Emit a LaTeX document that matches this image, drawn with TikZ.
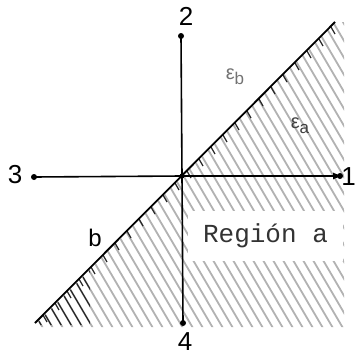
\documentclass[tikz,border=0pt]{standalone}
\usepackage{fontspec}
\setmainfont{Liberation Sans}
\newfontfamily\monofont{Liberation Mono}
\usetikzlibrary{arrows.meta}
\begin{document}
\begin{tikzpicture}[x=1pt,y=-1pt,
  dotnode/.style={circle,fill=black,inner sep=0pt,minimum size=6pt},
  numlabel/.style={font=\fontsize{26}{26}\selectfont,inner sep=0pt},
  axis/.style={line width=1.6pt,black},
  hatchline/.style={line width=1.8pt,black!30},
  tickline/.style={line width=1.2pt,black!85},
  greeklabel/.style={font=\fontsize{20}{20}\selectfont,inner sep=0pt}]
\useasboundingbox (0,0) rectangle (356,356);
% hatched region
\begin{scope}
  \clip (35,325) -- (336,22) -- (344,22) -- (344,327) -- (35,327) -- cycle;
  \foreach \k in {-220,-210,...,350} {
    \draw[hatchline] (\k,0) -- ({\k+200},340);
  }
\end{scope}
% darker hatching in the lower-left corner
\begin{scope}
  \clip (35,325) -- (90,270) -- (90,325) -- cycle;
  \foreach \k in {-220,-210,...,350} {
    \draw[tickline] (\k,0) -- ({\k+200},340);
  }
\end{scope}
% ticks along the diagonal
\foreach \s in {8,20,...,296} {
  \draw[tickline] ({35+\s},{323-\s}) -- ({39+\s},{330-\s});
}
% label box
\node[fill=white,minimum width=155pt,minimum height=50pt,inner sep=0pt,
      text=black!80,font=\monofont\fontsize{26}{26}\selectfont] (ra) at (265.5,236) {Región a};
% points
\coordinate (O) at (182,176);
\node[dotnode] (p1) at (340,176) {};
\node[dotnode] (p2) at (181,36) {};
\node[dotnode] (p3) at (34,177) {};
\node[dotnode] (p4) at (183,323) {};
\node[dotnode,minimum size=5pt] (o) at (O) {};
\coordinate (d1) at (35,323);
\coordinate (d2) at (335,22);
% axes
\draw[axis] (p3.center) -- (O);
\draw[axis,-{Latex[length=10pt,width=7pt]}] (O) -- (343,176);
\draw[axis] (p2.center) -- (O) -- (p4.center);
\draw[line width=1.8pt] (d1) -- (d2);
% labels
\node[numlabel] (l1) at (348.5,177) {1};
\node[numlabel] (l2) at (186,16) {2};
\node[numlabel] (l3) at (15,175) {3};
\node[numlabel] (l4) at (185,342) {4};
\node[greeklabel,text=black!55] (eb) at (235,77) {ε\raisebox{-5pt}{\fontsize{17}{17}\selectfont b}};
\node[greeklabel,text=black!75] (ea) at (300,126) {ε\raisebox{-5pt}{\fontsize{17}{17}\selectfont a}};
\node[font=\fontsize{24}{24}\selectfont\rmfamily,inner sep=0pt] (b) at (95,238) {b};
\end{tikzpicture}
\end{document}
